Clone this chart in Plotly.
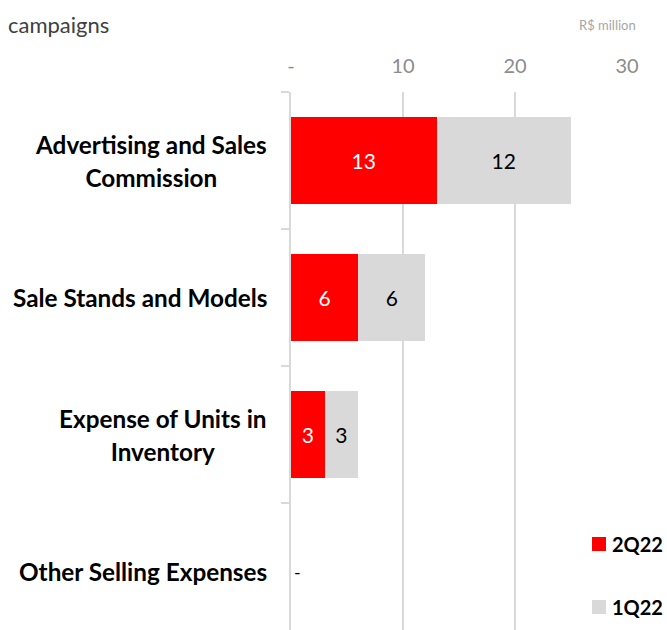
import plotly.graph_objects as go

# Selling expenses by type, R$ million
categories = [
    "Advertising and Sales<br>Commission",
    "Sale Stands and Models",
    "Expense of Units in<br>Inventory",
    "Other Selling Expenses",
]
q2_22 = [13, 6, 3, 0]
q1_22 = [12, 6, 3, 0]
series_names = ["2Q22", "1Q22"]
tick_vals = [0, 10, 20, 30]
tick_text = ["-", "10", "20", "30"]

RED = "#FF0000"
GREY = "#D9D9D9"
GRID = "#D9D9D9"
FONT = "Lato"

W, H = 667, 630
L, R, T, B = 291, 40, 92, 0
pw, ph = W - L - R, H - T - B


def px_x(p):
    return (p - L) / pw


def px_y(p):
    return (H - B - p) / ph


fig = go.Figure()
fig.add_trace(go.Bar(
    y=categories, x=q2_22, orientation="h", name=series_names[0],
    marker=dict(color=RED, line=dict(width=0)),
    text=[f"{v:.0f}" if v else "" for v in q2_22],
    textposition="inside", insidetextanchor="middle",
    textfont=dict(family=FONT, size=21, color="white"),
))
fig.add_trace(go.Bar(
    y=categories, x=q1_22, orientation="h", name=series_names[1],
    marker=dict(color=GREY, line=dict(width=0)),
    text=[f"{v:.0f}" if v else "" for v in q1_22],
    textposition="inside", insidetextanchor="middle",
    textfont=dict(family=FONT, size=21, color="black"),
))

annotations = []
# category labels, centred multi-line blocks left of the axis
for c in categories:
    lines = c.split("<br>")
    txt = "<br>".join(f"<span style='font-size:24.3px'>{ln}</span>" for ln in lines)
    annotations.append(dict(
        xref="paper", yref="y", x=0, y=c, xanchor="right", yanchor="middle",
        xshift=-22, text=f"<b>{txt}</b>", showarrow=False, align="center",
        font=dict(family=FONT, size=25.5, color="black"),
    ))
# dash labels for zero totals
for c, a, b in zip(categories, q2_22, q1_22):
    if a + b == 0:
        annotations.append(dict(
            xref="x", yref="y", x=0, y=c, xanchor="left", yanchor="middle",
            xshift=1, text="-", showarrow=False,
            font=dict(family=FONT, size=18, color="black"),
        ))

annotations.append(dict(
    xref="paper", yref="paper", x=px_x(638), y=px_y(25), xanchor="right",
    yanchor="middle", text="R$ million", showarrow=False,
    font=dict(family=FONT, size=13, color="#A6A6A6"),
))

# legend block
shapes = [dict(type="rect", xref="paper", yref="paper", layer="above",
               x0=px_x(585), x1=px_x(667), y0=px_y(630), y1=px_y(512),
               fillcolor="white", line=dict(width=0))]
for name, col, cy in zip(series_names, [RED, GREY], [544, 607]):
    shapes.append(dict(type="rect", xref="paper", yref="paper", layer="above",
                       x0=px_x(592), x1=px_x(606), y0=px_y(cy + 7), y1=px_y(cy - 7),
                       fillcolor=col, line=dict(width=0)))
    annotations.append(dict(
        xref="paper", yref="paper", x=px_x(610), y=px_y(cy), xanchor="left",
        yanchor="middle", text=f"<b>{name}</b>", showarrow=False,
        font=dict(family=FONT, size=20, color="black"),
    ))

fig.update_layout(
    width=W, height=H,
    margin=dict(l=L, r=R, t=T, b=B),
    paper_bgcolor="white", plot_bgcolor="white",
    barmode="stack", bargap=0.372,
    showlegend=False,
    title=dict(text="campaigns", xref="container", yref="container",
               x=0.012, y=1 - 25 / H, xanchor="left", yanchor="middle",
               font=dict(family=FONT, size=22, color="#404040")),
    xaxis=dict(side="top", range=[0, 30], tickvals=tick_vals, ticktext=tick_text,
               showgrid=True, gridcolor=GRID, gridwidth=2, zeroline=False,
               showline=False, ticks="", ticklabelstandoff=14,
               tickfont=dict(family=FONT, size=20, color="#8C8C8C")),
    yaxis=dict(type="category", categoryorder="array", categoryarray=categories,
               range=[-0.5 + (H - T) / 137, -0.5], showticklabels=False,
               tickson="boundaries", ticks="outside", ticklen=8, tickcolor=GRID,
               tickwidth=2, showline=True, linecolor=GRID, linewidth=2,
               showgrid=False, zeroline=False),
    annotations=annotations,
    shapes=shapes,
)

fig.write_html("out.html")
